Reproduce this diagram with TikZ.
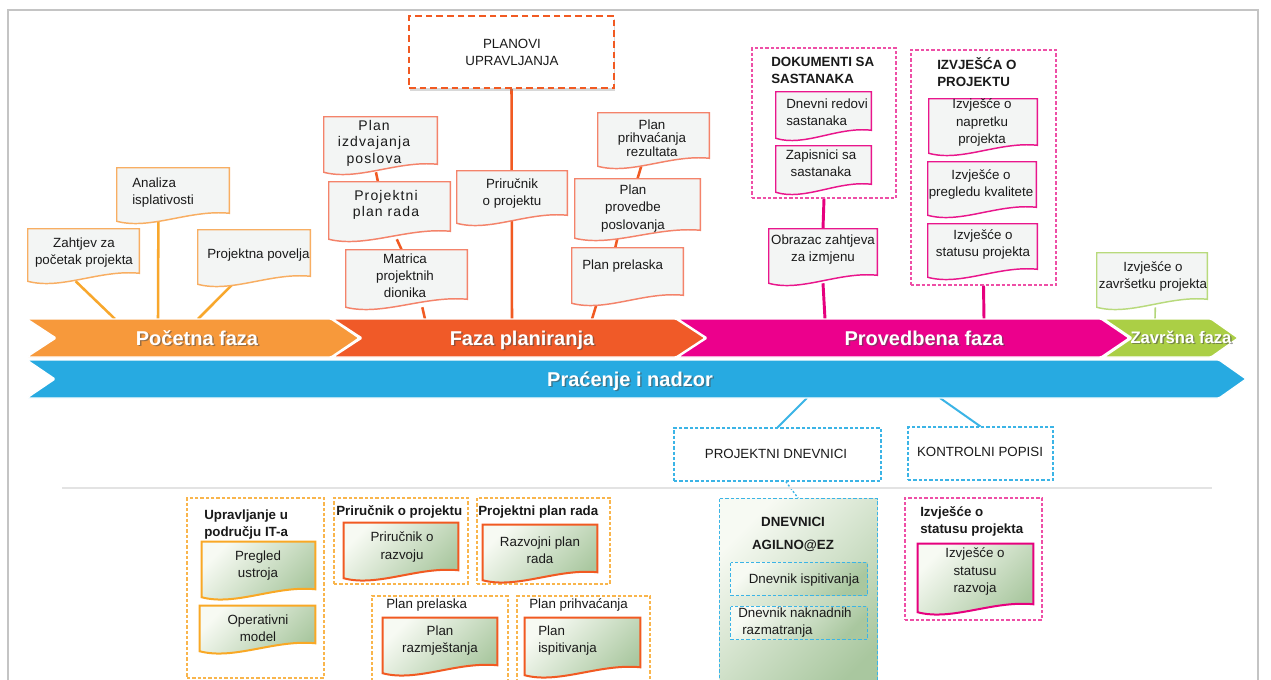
\documentclass[tikz,border=0pt]{standalone}
\usepackage{fontspec}
\setmainfont{Liberation Sans}
\newfontfamily\spacedfont{Liberation Sans}[LetterSpace=8]
\usetikzlibrary{calc,fit,shadows,backgrounds}

% phase colours
\definecolor{phaseA}{HTML}{F7993B}
\definecolor{phaseB}{HTML}{F05A28}
\definecolor{phaseC}{HTML}{EC008C}
\definecolor{phaseD}{HTML}{ABCF45}
\definecolor{monitor}{HTML}{27AAE1}
% document and connector colours
\definecolor{docfill}{HTML}{F3F5F4}
\definecolor{edgeA}{HTML}{F8AE62}
\definecolor{lineA}{HTML}{F8A72C}
\definecolor{edgeB}{HTML}{F4836A}
\definecolor{lineB}{HTML}{F15A22}
\definecolor{edgeC}{HTML}{E9168C}
\definecolor{lineC}{HTML}{E6007E}
\definecolor{edgeD}{HTML}{B8DA7C}
\definecolor{lineD}{HTML}{B3D67A}
\definecolor{cyanline}{HTML}{3BB4E6}
\definecolor{pinkdash}{HTML}{EE4FA6}
\definecolor{groupA}{HTML}{F9B54C}
\definecolor{edgeY}{HTML}{F9A825}
\definecolor{framegray}{HTML}{C4C4C4}
\definecolor{rulegray}{HTML}{E3E3E3}
\definecolor{gradA}{HTML}{F7FAF3}
\definecolor{gradM}{HTML}{DCE3C4}
\definecolor{gradB}{HTML}{A9C79F}
\definecolor{ink}{HTML}{1A1A1A}

% document outline: flat top, wavy bottom
\newcommand\wavepath[2]{%
  \path[#1] let \p1=(#2.north west), \p2=(#2.south east) in
    (\x1,\y1) -- (\x2,\y1) -- (\x2,\y2+6pt)
    .. controls ({\x1+0.65*(\x2-\x1)},\y2+9pt) and ({\x1+0.3*(\x2-\x1)},\y2-6.75pt) .. (\x1,\y2) -- cycle;}

\tikzset{
  area/.style={inner sep=0pt, fit={#1}},
  txt/.style={inner sep=0pt, align=center, text=ink, font=\fontsize{10}{12.8}\selectfont},
  txtl/.style={txt, align=left, anchor=west},
  ttl/.style={txtl, font=\bfseries\fontsize{10}{12.8}\selectfont},
  spaced/.style={txt, font=\spacedfont\fontsize{10.5}{12.4}\selectfont},
  docA/.style={fill=docfill, draw=edgeA, line width=1.1pt},
  docB/.style={fill=docfill, draw=edgeB, line width=1.1pt},
  docC/.style={fill=docfill, draw=edgeC, line width=1.1pt},
  docD/.style={fill=docfill, draw=edgeD, line width=1.1pt},
  shdoc/.style={draw=#1, line width=1.5pt, top color=gradA, bottom color=gradB, shading angle=45},
  greenish/.style={top color=gradA, middle color=gradM, bottom color=gradB, shading angle=45},
  conA/.style={draw=lineA, line width=1.9pt},
  conB/.style={draw=lineB, line width=1.9pt},
  conC/.style={draw=lineC, line width=2.2pt},
  conD/.style={draw=lineD, line width=1.2pt},
  conE/.style={draw=cyanline, line width=1.5pt},
  thindash/.style={draw=#1, line width=0.8pt, dash pattern=on 2.5pt off 1.5pt},
  chev/.style={fill=#1, draw=white, line width=1pt, rounded corners=1pt},
  ptitle/.style={inner sep=0pt, anchor=base, text=white, font=\bfseries\fontsize{15}{18}\selectfont},
  pshadow/.style={ptitle, text=black!70, opacity=0.55},
}

\begin{document}
\begin{tikzpicture}[x=0.75pt, y=-0.75pt]
\useasboundingbox (0,0) rectangle (1271,679);

% ---------- outer frame ----------
\draw[framegray, line width=1.3pt] (8,690) -- (8,10) -- (1258,10) -- (1258,690);
\draw[rulegray, line width=0.8pt] (62,488) -- (1212,488);

% ---------- phase chevrons ----------
\path[chev=phaseA] (27,319) -- (331,319) -- (359,338) -- (331,357) -- (27,357) -- (56,338) -- cycle;
\path[chev=phaseB] (333,319) -- (676,319) -- (705,338) -- (676,357) -- (333,357) -- (362,338) -- cycle;
\path[chev=phaseC] (678,319) -- (1101,319) -- (1129,338) -- (1101,357) -- (678,357) -- (707,338) -- cycle;
\path[chev=phaseD] (1104,319) -- (1211,319) -- (1238,338) -- (1211,357) -- (1104,357) -- (1132,338) -- cycle;
\path[chev=monitor] (27,360) -- (1219,360) -- (1246,379) -- (1219,398) -- (27,398) -- (55,379) -- cycle;

\node[pshadow] (pocS) at (198.5,346.5) {Početna faza};
\node[ptitle] (poc) at (197,345) {Početna faza};
\node[pshadow] (planS) at (523.5,346.5) {Faza planiranja};
\node[ptitle] (plan) at (522,345) {Faza planiranja};
\node[pshadow] (provS) at (925.5,346.5) {Provedbena faza};
\node[ptitle] (prov) at (924,345) {Provedbena faza};
\node[pshadow, font=\bfseries\fontsize{12.5}{15}\selectfont] (zavS) at (1182.3,344.3) {Završna faza};
\node[ptitle, font=\bfseries\fontsize{12.5}{15}\selectfont] (zav) at (1181,343) {Završna faza};
\node[pshadow] (nadS) at (631.5,387.5) {Praćenje i nadzor};
\node[ptitle] (nad) at (630,386) {Praćenje i nadzor};

% ---------- areas of the documents ----------
\node[area={(28,229)(139,281)}] (zahtjev) {};
\node[area={(117,168)(229,221)}] (analiza) {};
\node[area={(198,230)(310,284)}] (povelja) {};
\node[area={(324,117)(437,172)}] (izdv) {};
\node[area={(329,182)(450,239)}] (ppr) {};
\node[area={(346,250)(467,307)}] (matrica) {};
\node[area={(457,171)(567,223)}] (prirucnik) {};
\node[area={(598,113)(709,166)}] (prihv) {};
\node[area={(575,179)(700,238)}] (provedbe) {};
\node[area={(572,248)(683,303)}] (prelazak) {};
\node[area={(776,92)(871,138)}] (dnevni) {};
\node[area={(776,146)(871,192)}] (zapisnici) {};
\node[area={(769,229)(877,283)}] (obrazac) {};
\node[area={(929,99)(1037,153)}] (napredak) {};
\node[area={(928,162)(1036,215)}] (kvaliteta) {};
\node[area={(928,224)(1037,277)}] (statusp) {};
\node[area={(1097,253)(1207,307)}] (zavrsetak) {};

% group frames of the upper part
\node[area={(409,16)(614,88)}, draw=lineB, fill=white, line width=1.6pt,
      dash pattern=on 5pt off 3pt,
      drop shadow={shadow xshift=1pt, shadow yshift=-2pt, opacity=0.3}] (planovi) {};
\node[area={(752,48)(896,198)}, thindash=pinkdash] (dokumenti) {};
\node[area={(911,50)(1056,285)}, thindash=pinkdash] (izvjesca) {};

% monitoring boxes
\node[area={(674,428)(881,481)}, thindash=cyanline, fill=white] (pdnevnici) {};
\node[area={(908,427)(1053,480)}, thindash=cyanline, fill=white] (kpopisi) {};

% lower groups
\node[area={(187,498)(324,678)}, thindash=groupA] (itgroup) {};
\node[area={(334,498)(468,584)}, thindash=groupA] (prgroup) {};
\node[area={(477,498)(610,584)}, thindash=groupA] (pprgroup) {};
\node[area={(372,596)(508,690)}, thindash=groupA] (plprgroup) {};
\node[area={(517,596)(650,690)}, thindash=groupA] (plprihgroup) {};
\node[area={(905,498)(1042,620)}, thindash=pinkdash] (spgroup) {};
\node[area={(720,499)(877,700)}] (agilno) {};
\path[thindash=cyanline, greenish]
  (agilno.north west) rectangle (agilno.south east);
\node[area={(731,563)(867,595)}] (dnisp) {};
\path[thindash=cyanline, greenish]
  (dnisp.north west) rectangle (dnisp.south east);
\node[area={(731,607)(867,639)}] (dnakn) {};
\path[thindash=cyanline, greenish]
  (dnakn.north west) rectangle (dnakn.south east);

\node[area={(202,542)(315,597)}] (pregled) {};
\node[area={(200,606)(315,651)}] (operativni) {};
\node[area={(344,523)(458,578)}] (razvoj) {};
\node[area={(483,525)(597,580)}] (razvojniplan) {};
\node[area={(383,618)(497,673)}] (razmjestanje) {};
\node[area={(525,618)(640,675)}] (ispitivanje) {};
\node[area={(918,544)(1033,612)}] (statusr) {};

% ---------- document outlines ----------
\wavepath{docA}{zahtjev}
\wavepath{docA}{analiza}
\wavepath{docA}{povelja}
\wavepath{docB}{izdv}
\wavepath{docB}{ppr}
\wavepath{docB}{matrica}
\wavepath{docB}{prirucnik}
\wavepath{docB}{prihv}
\wavepath{docB}{provedbe}
\wavepath{docB}{prelazak}
\wavepath{docC}{dnevni}
\wavepath{docC}{zapisnici}
\wavepath{docC}{obrazac}
\wavepath{docC}{napredak}
\wavepath{docC}{kvaliteta}
\wavepath{docC}{statusp}
\wavepath{docD}{zavrsetak}
\wavepath{shdoc=edgeY}{pregled}
\wavepath{shdoc=edgeY}{operativni}
\wavepath{shdoc=lineB}{razvoj}
\wavepath{shdoc=lineB}{razvojniplan}
\wavepath{shdoc=lineB}{razmjestanje}
\wavepath{shdoc=lineB}{ispitivanje}
\wavepath{shdoc=lineC}{statusr}

% ---------- texts ----------
\node[txt] (zahtjev-t) at (84,253) {Zahtjev za\\početak projekta};
\node[txtl] (analiza-t) at (132,192.5) {Analiza\\isplativosti};
\node[txtl] (povelja-t) at (207,255) {Projektna povelja};
\node[spaced] (izdv-t) at (374,143) {Plan\\izdvajanja\\poslova};
\node[spaced] (ppr-t) at (386,205) {Projektni\\plan rada};
\node[txt] (matrica-t) at (405,275.5) {Matrica\\projektnih\\dionika};
\node[txt] (planovi-t) at (512,52) {PLANOVI\\UPRAVLJANJA};
\node[txt] (prirucnik-t) at (512,193.5) {Priručnik\\o projektu};
\node[txt, font=\fontsize{10}{10.2}\selectfont] (prihv-t) at (652,138) {Plan\\prihvaćanja\\rezultata};
\node[txt] (provedbe-t) at (633,208.5) {Plan\\provedbe\\poslovanja};
\node[txtl] (prelazak-t) at (582,266) {Plan prelaska};

\node[ttl] (dokumenti-t) at (771,70.5) {DOKUMENTI SA\\SASTANAKA};
\node[txtl] (dnevni-t) at (786,112.5) {Dnevni redovi\\sastanaka};
\node[txt] (zapisnici-t) at (821,163.5) {Zapisnici sa\\sastanaka};
\node[txt] (obrazac-t) at (823,249.5) {Obrazac zahtjeva\\za izmjenu};
\node[ttl] (izvjesca-t) at (937,72.5) {IZVJEŠĆA O\\PROJEKTU};
\node[txt] (napredak-t) at (982,122.5) {Izvješće o\\napretku\\projekta};
\node[txt] (kvaliteta-t) at (981,184.5) {Izvješće o\\pregledu kvalitete};
\node[txt] (statusp-t) at (983,244.5) {Izvješće o\\statusu projekta};
\node[txt] (zavrsetak-t) at (1153,276.5) {Izvješće o\\završetku projekta};

\node[txt] (pdnevnici-t) at (776,454) {PROJEKTNI DNEVNICI};
\node[txt] (kpopisi-t) at (980,452) {KONTROLNI POPISI};

\node[ttl] (itgroup-t) at (204,524.5) {Upravljanje u\\području IT-a};
\node[txt] (pregled-t) at (258,565.5) {Pregled\\ustroja};
\node[txt] (operativni-t) at (258,628) {Operativni\\model};
\node[ttl] (prgroup-t) at (336,512) {Priručnik o projektu};
\node[txt] (razvoj-t) at (402,547) {Priručnik o\\razvoju};
\node[ttl] (pprgroup-t) at (478,512) {Projektni plan rada};
\node[txt] (razvojniplan-t) at (540,550.5) {Razvojni plan\\rada};
\node[txtl] (plprgroup-t) at (386,605) {Plan prelaska};
\node[txt] (razmjestanje-t) at (440,641) {Plan\\razmještanja};
\node[txtl] (plprihgroup-t) at (529,605) {Plan prihvaćanja};
\node[txtl] (ispitivanje-t) at (538,641) {Plan\\ispitivanja};

\node[txt, font=\bfseries\fontsize{10}{17.2}\selectfont] (agilno-t) at (793,534.5) {DNEVNICI\\AGILNO@EZ};
\node[txt] (dnisp-t) at (804,580) {Dnevnik ispitivanja};
\node[txtl] (dnakn-t) at (738,622.5) {Dnevnik naknadnih\\\hspace*{3pt}razmatranja};
\node[ttl] (spgroup-t) at (920,521.5) {Izvješće o\\statusu projekta};
\node[txt] (statusr-t) at (975,571.5) {Izvješće o\\statusu\\razvoja};

% ---------- connectors (behind everything) ----------
\coordinate (barA1) at (115,319);
\coordinate (barA2) at (158,319);
\coordinate (barA3) at (198,319);
\coordinate (barB1) at (425,319);
\coordinate (barB2) at (512,319);
\coordinate (barB3) at (592,319);
\coordinate (barC1) at (825,319);
\coordinate (barC2) at (984,319);
\coordinate (barD1) at (1155,319);
\coordinate (barM1) at (807,398);
\coordinate (barM2) at (940,398);

\begin{scope}[on background layer]
\fill[white] (0,0) rectangle (1271,679);
\draw[conA] ($(zahtjev.south west)!0.43!(zahtjev.south east)$) -- (barA1);
\draw[conA] ($(analiza.south west)!0.37!(analiza.south east)$) -- (barA2);
\draw[conA] ($(povelja.south west)!0.31!(povelja.south east)$) -- (barA3);
\draw[conB] ($(izdv.south west)!0.46!(izdv.south east)$) -- ($(ppr.north west)!0.405!(ppr.north east)$);
\draw[conB] ($(ppr.south west)!0.56!(ppr.south east)$) -- ($(matrica.north west)!0.46!(matrica.north east)$);
\draw[conB] ($(matrica.south west)!0.63!(matrica.south east)$) -- (barB1);
\draw[conB] (planovi.south) -- (barB2);
\draw[conB] ($(prihv.south west)!0.39!(prihv.south east)$) -- ($(provedbe.north west)!0.5!(provedbe.north east)$);
\draw[conB] ($(provedbe.south west)!0.34!(provedbe.south east)$) -- ($(prelazak.north west)!0.39!(prelazak.north east)$);
\draw[conB] ($(prelazak.south west)!0.225!(prelazak.south east)$) -- (barB3);
\draw[conC] (dokumenti.south) -- (obrazac.north);
\draw[conC] (obrazac.south) -- (barC1);
\draw[conC] (izvjesca.south) -- (barC2);
\draw[conD] ($(zavrsetak.south west)!0.53!(zavrsetak.south east)$) -- (barD1);
\draw[conE] (barM1) -- (pdnevnici.north);
\draw[conE] (barM2) -- (kpopisi.north);
\draw[cyanline, line width=1pt, dash pattern=on 1.5pt off 1.5pt]
  ($(pdnevnici.south west)!0.54!(pdnevnici.south east)$) -- ($(agilno.north west)!0.5!(agilno.north east)$);
\end{scope}
\end{tikzpicture}
\end{document}
